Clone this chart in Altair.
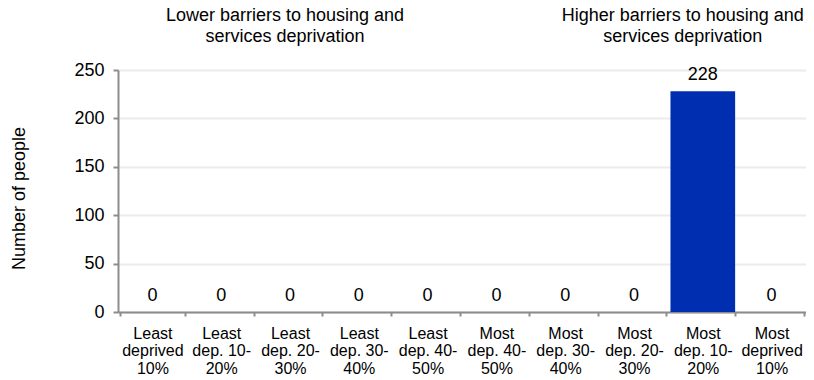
import altair as alt
import pandas as pd

categories = [
    "Least\ndeprived\n10%",
    "Least\ndep. 10-\n20%",
    "Least\ndep. 20-\n30%",
    "Least\ndep. 30-\n40%",
    "Least\ndep. 40-\n50%",
    "Most\ndep. 40-\n50%",
    "Most\ndep. 30-\n40%",
    "Most\ndep. 20-\n30%",
    "Most\ndep. 10-\n20%",
    "Most\ndeprived\n10%",
]
values = [0, 0, 0, 0, 0, 0, 0, 0, 228, 0]

annot_lower = "Lower barriers to housing and\nservices deprivation"
annot_higher = "Higher barriers to housing and\nservices deprivation"

df = pd.DataFrame({"cat": categories, "val": values})
ann_lo = pd.DataFrame({"cat": [categories[2]], "text": [annot_lower]})
ann_hi = pd.DataFrame({"cat": [categories[8]], "text": [annot_higher]})

FONT = "Liberation Sans"
xscale = alt.Scale(domain=categories, paddingInner=0.06, paddingOuter=0.03)
yscale = alt.Scale(domain=[0, 250])

x = alt.X(
    "cat:N",
    scale=xscale,
    title=None,
    axis=alt.Axis(
        labelAngle=0,
        labelExpr="isValid(datum.value) ? split(datum.value, '\\n') : ''",
        labelFontSize=16,
        labelLineHeight=17.5,
        labelColor="#000000",
        labelPadding=9,
        tickBand="extent",
        tickSize=4,
        tickColor="#8c8c8c",
        tickWidth=2,
        domainColor="#8c8c8c",
        domainWidth=2,
        grid=False,
    ),
)

bars = alt.Chart(df).mark_bar(color="#002EB0").encode(
    x=x,
    y=alt.Y(
        "val:Q",
        scale=yscale,
        title="Number of people",
        axis=alt.Axis(
            values=[0, 50, 100, 150, 200, 250],
            labelFontSize=18,
            labelColor="#000000",
            labelPadding=9,
            tickSize=5,
            tickColor="#8c8c8c",
            tickWidth=2,
            domainColor="#8c8c8c",
            domainWidth=2,
            gridColor="#ebebeb",
            gridWidth=2,
            titleFontSize=18,
            titleFontWeight="normal",
            titleColor="#000000",
            titleX=-99,
            titleY=128,
            titleAngle=270,
            titleBaseline="middle",
            titleAlign="center",
        ),
    ),
)

labels = alt.Chart(df).mark_text(
    baseline="bottom", dy=-7, fontSize=18, font=FONT, color="#000000"
).encode(
    x=alt.X("cat:N", scale=xscale),
    y=alt.Y("val:Q", scale=yscale),
    text=alt.Text("val:Q"),
)


def annot(data, dx):
    return alt.Chart(data).mark_text(
        baseline="alphabetic", fontSize=18, font=FONT, color="#000000",
        lineBreak="\n", lineHeight=21, align="center", dx=dx
    ).encode(
        x=alt.X("cat:N", scale=xscale),
        y=alt.value(-49),
        text="text:N",
    )


chart = alt.layer(bars, labels, annot(ann_lo, -5), annot(ann_hi, -20)).properties(
    width=688,
    height=242,
    autosize=alt.AutoSizeParams(type="none"),
    padding={"left": 110, "top": 62, "right": 0, "bottom": 66},
).configure(font=FONT).configure_view(stroke=None)

chart.save("out.html", embed_options={"renderer": "svg", "actions": False})
